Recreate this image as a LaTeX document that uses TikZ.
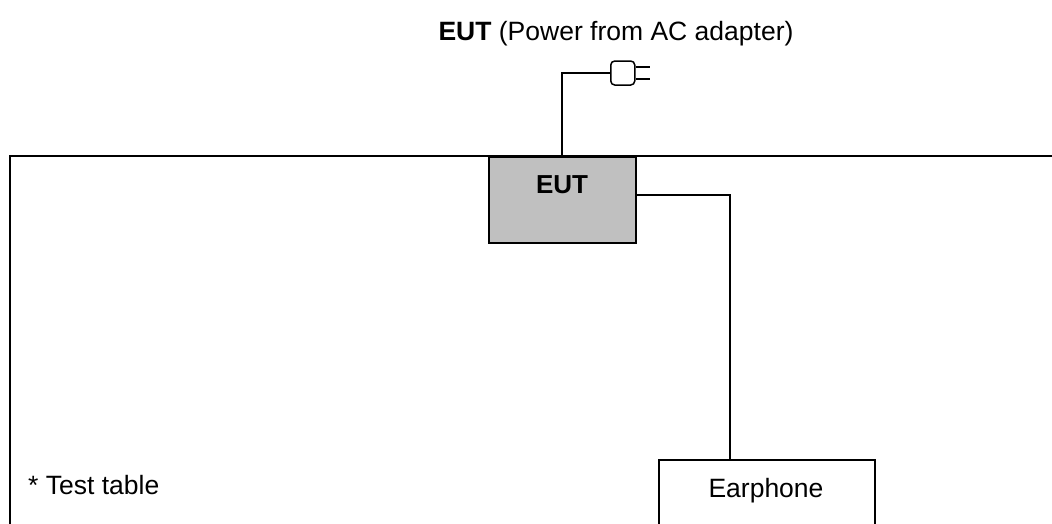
\documentclass[tikz,border=0pt]{standalone}
\usepackage{fontspec}
\setmainfont{Liberation Sans}
\definecolor{eutgrey}{HTML}{C0C0C0}
\begin{document}
\begin{tikzpicture}[x=1pt,y=-1pt,
  thinline/.style={line width=1.5pt},
  txt/.style={font=\fontsize{26.5}{30}\selectfont, inner sep=0pt, anchor=base},
  btxt/.style={font=\fontsize{26}{30}\selectfont\bfseries, inner sep=0pt, anchor=base}]
\useasboundingbox (0,0) rectangle (1052,523);
\draw[line width=2pt] (10,530) -- (10,156) -- (1060,156);
\node[draw, thinline, fill=eutgrey, minimum width=147pt, minimum height=86pt, anchor=north west, inner sep=0pt] (eut) at (488,156) {};
\node[btxt] (eutlabel) at (562,193) {EUT};
\node[draw, thinline, minimum width=216pt, minimum height=80pt, anchor=north west, inner sep=0pt] (ear) at (658,459) {};
\node[txt] (earlabel) at (766,497) {Earphone};
\node[txt, anchor=base west] (table) at (28,494) {* Test table};
\node[txt] (title) at (616,40) {\textbf{EUT} (Power from AC adapter)};
\node[draw, thinline, rounded corners=4pt, minimum width=24pt, minimum height=24pt, inner sep=0pt, anchor=west] (plug) at (610,73) {};
\coordinate (p1) at (650,67);
\coordinate (p2) at (650,79);
\draw[thinline] (plug.east |- p1) -- (p1);
\draw[thinline] (plug.east |- p2) -- (p2);
\coordinate (euttop) at (562,156);
\draw[thinline] (euttop) |- (plug.west);
\coordinate (cab) at (730,195);
\draw[thinline] (eut.east |- cab) -- (cab) -- (ear.north -| cab);
\end{tikzpicture}
\end{document}
